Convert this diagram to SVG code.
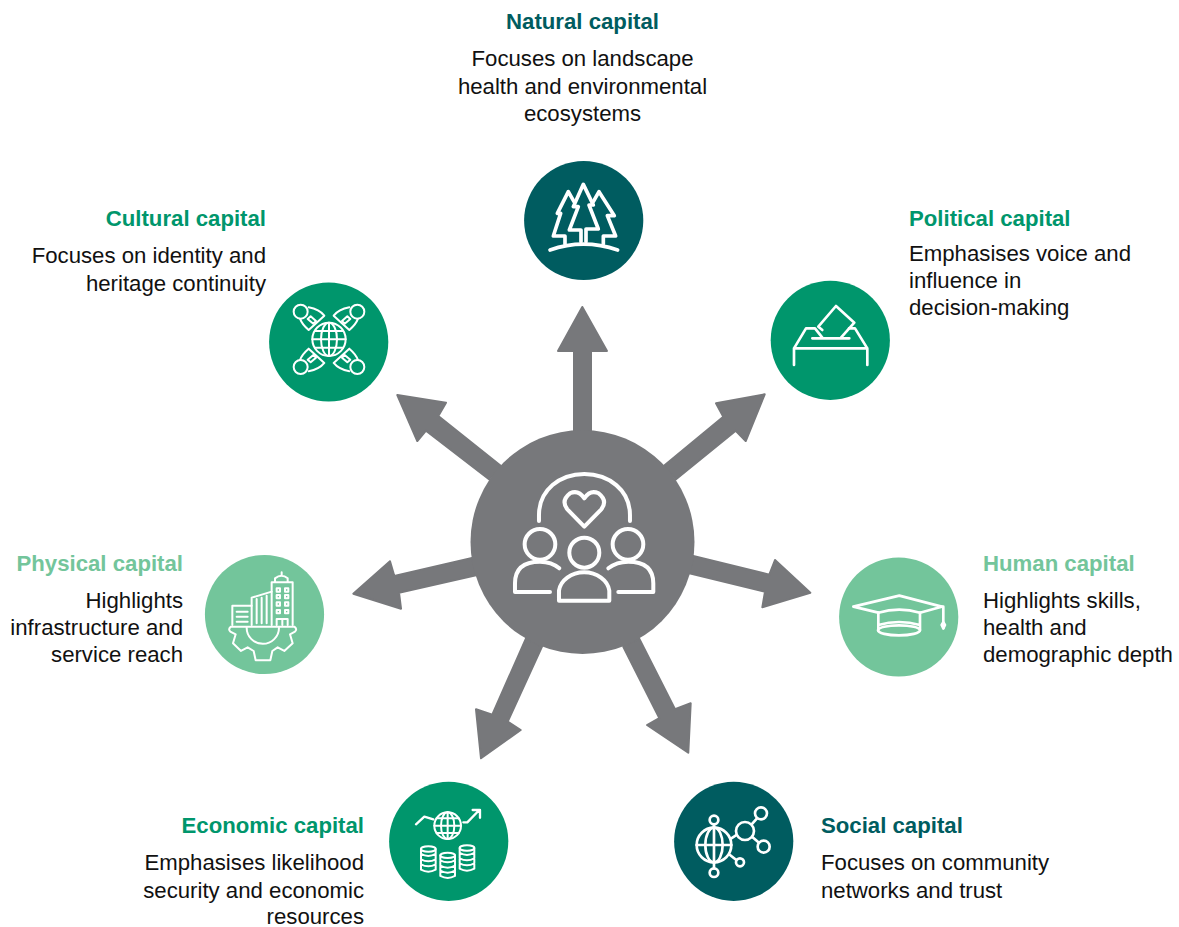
<svg xmlns="http://www.w3.org/2000/svg" xmlns:xlink="http://www.w3.org/1999/xlink" width="1179" height="927" viewBox="0 0 1179 927">
<style>
text{font-family:"Liberation Sans",Arial,sans-serif;font-size:22.2px;fill:#111}
.t{font-weight:bold}
.teal{fill:#005c60}.green{fill:#00966c}.light{fill:#73c59b}
text.tt{fill:#005c60}text.tg{fill:#00966c}text.tl{fill:#73c59b}
.i{fill:none;stroke:#fff;stroke-width:8;stroke-linecap:round;stroke-linejoin:round}
.thin{stroke-width:6}
.arrow{fill:#77787b;stroke:#77787b;stroke-width:2;stroke-linejoin:round}
.e{text-anchor:end}.m{text-anchor:middle}
</style>
<defs>
<g id="person"><circle cx="122" cy="125" r="21"/><path d="M146,112Q178,118 193,137L146,180Q126,163 120,146"/><path d="M143,147L152,139L168,153L160,161Z"/></g>
<g id="coin"><ellipse cx="0" cy="0" rx="22" ry="8"/><path d="M-22,0V62Q0,74 22,62V0M-22,15Q0,27 22,15M-22,31Q0,43 22,31M-22,46Q0,58 22,46"/></g>
</defs>
<g id="connectors">
<path class="arrow" d="M574,432V351H558L582.3,307L607,351H591V432Z"/>
<path class="arrow" d="M500.7,465.7L438.3,416L446,402.7L397.3,395L417.3,441L426,430.7L489,479.3Z"/>
<path class="arrow" d="M664,465.7L723.3,416.7L716,403.3L764.7,394.3L745.7,441L735.7,430.7L676,479.3Z"/>
<path class="arrow" d="M693.3,556L769.3,574.7L775,560L810.3,592.7L762.3,607.3L765,591.7L689.3,573.3Z"/>
<path class="arrow" d="M472,558L394.3,576L390,561.3L353.3,593.7L401,608.7L399,592.7L476,575.3Z"/>
<path class="arrow" d="M526,638.3L492.3,714.7L476,709.3L481,758.3L520.7,730L507.7,721.7L542,646.7Z"/>
<path class="arrow" d="M639,638.3L675,709.3L690.7,703.3L688.3,752.7L647,725L659.3,718L623.3,646.7Z"/>
</g>
<g id="center">
<circle cx="582.5" cy="542" r="112" fill="#77787b"/>
<g transform="translate(340,300) scale(.3333)" class="i" style="stroke-width:12">
<path d="M597,663V645C597,570 660,522 733,522C806,522 870,570 870,645V663"/>
<path d="M733,680L682,628Q662,602 690,580Q715,568 733,595Q751,568 776,580Q804,602 784,628Z"/>
<circle cx="733" cy="758" r="45"/><path d="M657,902V872A76,62 0 0 1 808,872V902Z"/>
<circle cx="600" cy="733" r="46"/><path d="M630,876H525V850Q525,785 600,785Q635,785 658,805"/>
<circle cx="864" cy="733" r="46"/><path d="M835,876H940V850Q940,785 865,785Q830,785 805,805"/>
</g>
</g>
<g id="natural">
<circle class="teal" cx="583.7" cy="220.5" r="59.6"/>
<g transform="translate(500,150) scale(.3333)" class="i" style="stroke-width:11">
<path d="M243,275V240H208L235,170H220L250,103L280,165H267L295,237H258V275"/>
<path d="M222,155L205,125L172,190H182L160,258H195V282M280,155L297,125L343,197H322L347,258H310V282"/>
<path d="M150,300Q250,265 353,300"/>
</g>
<text class="t tt m" x="582.5" y="29">Natural capital</text>
<text class="m" x="582.5" y="66">Focuses on landscape</text>
<text class="m" x="582.5" y="94">health and environmental</text>
<text class="m" x="582.5" y="121">ecosystems</text>
</g>
<g id="cultural">
<circle class="green" cx="328.7" cy="342" r="59.6"/>
<g transform="translate(260,270) scale(.3333)" class="i thin">
<circle cx="207" cy="208" r="50"/><ellipse cx="207" cy="208" rx="24" ry="50"/>
<path d="M207,158V258M157,208H257M166,183H248M166,233H248"/>
<use xlink:href="#person" href="#person"/>
<use xlink:href="#person" href="#person" transform="matrix(-1 0 0 1 414 0)"/>
<use xlink:href="#person" href="#person" transform="matrix(1 0 0 -1 0 416)"/>
<use xlink:href="#person" href="#person" transform="matrix(-1 0 0 -1 414 416)"/>
</g>
<text class="t tg e" x="266" y="226">Cultural capital</text>
<text class="e" x="266" y="263">Focuses on identity and</text>
<text class="e" x="266" y="291">heritage continuity</text>
</g>
<g id="political">
<circle class="green" cx="830.3" cy="340.3" r="59.6"/>
<g transform="translate(760,270) scale(.3333)" class="i">
<path d="M102,285V235L138,175H165L187,203M102,235H322V285M322,235L285,175H267M157,205H268"/>
<path d="M187,180L175,170L228,108L283,158L243,203"/>
</g>
<text class="t tg" x="909" y="226">Political capital</text>
<text x="909" y="261">Emphasises voice and</text>
<text x="909" y="288">influence in</text>
<text x="909" y="315">decision-making</text>
</g>
<g id="physical">
<circle class="light" cx="264.5" cy="614.5" r="59.6"/>
<g transform="translate(195,545) scale(.3333)" class="i thin">
<path d="M108,245H298Q308,252 300,260L285,268L293,295L268,318L248,307L232,318L226,346H182L176,318L158,307L138,318L114,295L122,268L106,260Q98,252 108,245Z"/>
<path d="M155,248A48,48 0 0 0 252,248"/>
<path d="M170,240V182H112V240M125,200H158M125,215H158M125,230H158"/>
<path d="M170,158L230,140M170,158V182M185,162V235M200,158V235M215,152V235"/>
<path d="M230,240V112H293V240M240,112V100Q260,85 278,100V112M260,82V90"/>
<path d="M245,130h10v10h-10zM270,130h10v10h-10zM245,150h10v10h-10zM270,150h10v10h-10zM245,172h10v10h-10zM270,172h10v10h-10zM245,195h10v10h-10zM270,195h10v10h-10zM245,240V222H278V240M262,222V240"/>
</g>
<text class="t tl e" x="183" y="571">Physical capital</text>
<text class="e" x="183" y="608">Highlights</text>
<text class="e" x="183" y="635">infrastructure and</text>
<text class="e" x="183" y="662">service reach</text>
</g>
<g id="human">
<circle class="light" cx="898.7" cy="617" r="59.6"/>
<g transform="translate(830,545) scale(.3333)" class="i">
<path d="M70,185L208,152L335,185L270,203Q208,185 145,203Z"/>
<path d="M145,203V255M270,203V255M145,240Q207,222 270,240"/>
<ellipse cx="207" cy="256" rx="63" ry="15"/>
<path d="M335,185H340V250"/>
<path d="M340,232L345,240L340,250L335,240Z"/>
</g>
<text class="t tl" x="983" y="571">Human capital</text>
<text x="983" y="608">Highlights skills,</text>
<text x="983" y="635">health and</text>
<text x="983" y="662">demographic depth</text>
</g>
<g id="economic">
<circle class="green" cx="448.7" cy="841.3" r="59.6"/>
<g transform="translate(380,775) scale(.3333)" class="i thin">
<circle cx="203" cy="152" r="40"/><ellipse cx="203" cy="152" rx="20" ry="40"/>
<path d="M203,112V192M163,152H243M170,130H236M170,174H236"/>
<path d="M108,148L133,125L160,133M250,142H262L298,105M278,105H300V128" style="stroke-width:7"/>
<use xlink:href="#coin" href="#coin" x="145" y="222"/>
<use xlink:href="#coin" href="#coin" x="203" y="241"/>
<use xlink:href="#coin" href="#coin" x="261" y="219"/>
</g>
<text class="t tg e" x="364" y="833">Economic capital</text>
<text class="e" x="364" y="870">Emphasises likelihood</text>
<text class="e" x="364" y="898">security and economic</text>
<text class="e" x="364" y="924">resources</text>
</g>
<g id="social">
<circle class="teal" cx="733.7" cy="841.3" r="59.6"/>
<g transform="translate(665,775) scale(.3333)" class="i">
<circle cx="147" cy="210" r="52"/><ellipse cx="147" cy="210" rx="26" ry="52"/>
<path d="M95,210H199M147,148V280"/>
<circle cx="147" cy="135" r="13"/><circle cx="147" cy="293" r="13"/>
<circle cx="240" cy="168" r="27"/><circle cx="288" cy="115" r="18"/><circle cx="296" cy="215" r="18"/><circle cx="225" cy="262" r="12"/>
<path d="M199,190L215,180M260,148L276,130M262,186L282,203M195,240L214,255"/>
</g>
<text class="t tt" x="821" y="833">Social capital</text>
<text x="821" y="870">Focuses on community</text>
<text x="821" y="898">networks and trust</text>
</g>
</svg>
